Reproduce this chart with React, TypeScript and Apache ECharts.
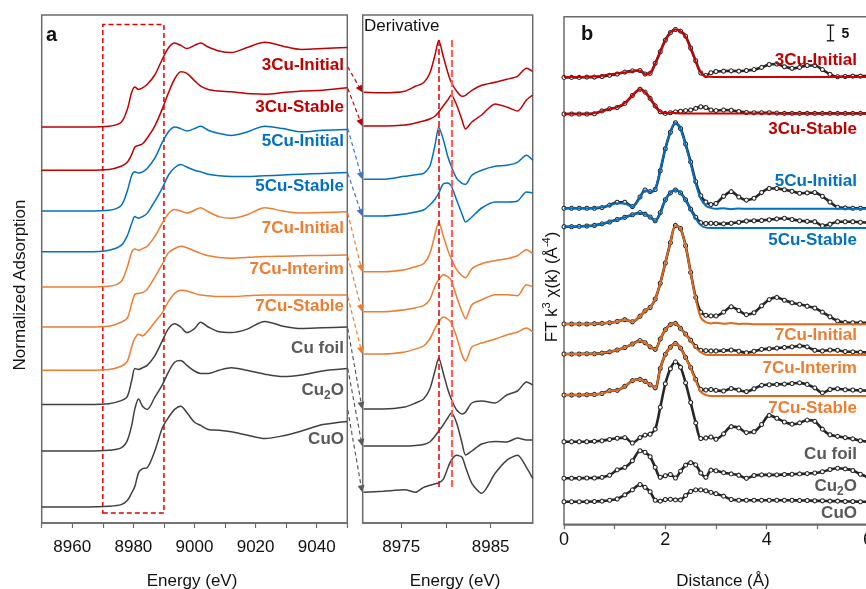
import React, { useEffect, useRef } from 'react';
import * as echarts from 'echarts';

const FONT = '"Liberation Sans", Arial, Helvetica, sans-serif';

const sampleNames = ['3Cu-Initial', '3Cu-Stable', '5Cu-Initial', '5Cu-Stable', '7Cu-Initial', '7Cu-Interim', '7Cu-Stable', 'Cu foil', 'Cu2O', 'CuO'];

// ---------- XANES (panel a) ----------
const xanesE = [8950, 8965, 8972, 8976, 8978, 8979.5, 8980.5, 8981.7, 8983, 8984.5, 8987, 8989.5, 8991.5, 8993.5, 8995.5, 8997.5, 9000, 9002, 9004.5, 9008, 9012, 9017, 9023, 9029, 9035, 9042, 9050];
const xanes3CuI = [0, 0, 0.01, 0.06, 0.22, 0.44, 0.5, 0.47, 0.49, 0.53, 0.65, 0.85, 0.99, 1.05, 1.02, 0.98, 1.02, 1.05, 1.0, 0.95, 0.93, 0.99, 1.06, 1.01, 0.97, 0.98, 0.995];
const xanes3CuS = [0, 0, 0.01, 0.05, 0.1, 0.2, 0.29, 0.31, 0.33, 0.4, 0.55, 0.77, 0.97, 1.14, 1.23, 1.21, 1.12, 1.05, 1.01, 0.99, 0.98, 0.96, 0.95, 0.97, 0.99, 1.0, 1.03];
const xanes5CuI = [0, 0, 0.01, 0.07, 0.25, 0.45, 0.49, 0.475, 0.49, 0.53, 0.66, 0.86, 0.99, 1.05, 1.03, 1.0, 1.03, 1.06, 1.01, 0.97, 0.945, 0.985, 1.06, 1.03, 0.99, 1.01, 1.02];
const xanes5CuS = [0, 0, 0.02, 0.08, 0.2, 0.36, 0.44, 0.42, 0.44, 0.48, 0.63, 0.8, 0.96, 1.05, 1.09, 1.06, 1.02, 1.0, 0.97, 0.95, 0.94, 0.94, 0.95, 0.96, 0.97, 0.98, 0.99];
const xanes7CuI = [0, 0, 0.01, 0.07, 0.25, 0.44, 0.475, 0.46, 0.48, 0.51, 0.63, 0.8, 0.92, 0.97, 0.95, 0.925, 0.96, 0.99, 0.94, 0.88, 0.86, 0.9, 0.99, 0.95, 0.925, 0.93, 0.94];
const xanes7CuInt = [0, 0, 0.01, 0.06, 0.11, 0.3, 0.41, 0.42, 0.43, 0.47, 0.62, 0.79, 0.93, 0.98, 1.01, 0.99, 0.95, 0.92, 0.89, 0.87, 0.86, 0.87, 0.88, 0.885, 0.89, 0.895, 0.9];
const xanes7CuS = [0, 0, 0.01, 0.05, 0.11, 0.3, 0.4, 0.45, 0.43, 0.48, 0.6, 0.72, 0.86, 0.96, 1.0, 0.99, 0.96, 0.94, 0.93, 0.92, 0.92, 0.93, 0.94, 0.94, 0.94, 0.94, 0.94];
const xanesCuFoil = [0, 0, 0.01, 0.05, 0.1, 0.31, 0.45, 0.44, 0.46, 0.49, 0.61, 0.8, 0.95, 1.01, 0.97, 0.9, 0.95, 1.03, 0.97, 0.91, 0.9, 0.94, 1.04, 0.98, 0.95, 0.96, 0.97];
const xanesCu2O = [0, 0, 0.01, 0.04, 0.13, 0.33, 0.53, 0.65, 0.56, 0.52, 0.67, 0.83, 0.99, 1.11, 1.13, 1.07, 1.0, 0.97, 0.97, 1.01, 1.04, 1.01, 0.96, 0.93, 0.95, 1.0, 1.03];
const xanesCuO = [0, 0, 0.01, 0.03, 0.08, 0.18, 0.26, 0.43, 0.48, 0.49, 0.7, 0.99, 1.12, 1.22, 1.26, 1.18, 1.06, 1.02, 0.97, 0.96, 0.94, 0.9, 0.855, 0.89, 0.95, 1.03, 1.07];
const xanesOffsets = [4.95, 4.41, 3.9, 3.39, 2.95, 2.45, 1.91, 1.48, 0.9, 0.2];
const arrowStartLevels = [5.7, 5.43, 4.93, 4.37, 3.87, 3.33, 2.83, 2.43, 1.93, 1.41];

// ---------- Derivative ----------
const derivE = [8970.8, 8973, 8975.4, 8976.6, 8977.5, 8978.2, 8978.8, 8979.2, 8979.7, 8980.2, 8980.6, 8981.2, 8981.8, 8982.2, 8982.9, 8984, 8985.5, 8986.8, 8988, 8989, 8989.7];
const deriv3CuI = [0, -0.05, 0.1, 0.6, 0.95, 1.9, 3.8, 5.2, 3.6, 2.0, 1.0, 0.1, -0.4, -0.3, 0.2, 0.7, 1.0, 1.3, 1.6, 2.4, 2.1];
const deriv3CuS = [0, 0, 0.1, 0.3, 0.5, 0.7, 1.0, 1.4, 2.0, 2.6, 3.1, 2.1, 0.6, -0.3, 0.4, 1.1, 2.2, 1.9, 1.5, 2.6, 3.1];
const deriv5CuI = [0, 0, 0.3, 0.45, 0.6, 1.3, 3.5, 5.2, 4.0, 2.3, 1.3, 0.1, -0.4, -0.5, 0.4, 0.9, 1.3, 1.4, 1.7, 2.4, 1.9];
const deriv5CuS = [0, 0, 0.2, 0.4, 0.6, 1.1, 1.7, 2.3, 3.2, 3.3, 3.0, 1.6, 0.2, -0.6, -0.1, 0.8, 1.4, 1.4, 1.5, 2.4, 2.3];
const deriv7CuI = [0, 0, 0.2, 0.5, 0.8, 1.8, 3.8, 5.0, 3.6, 2.2, 1.3, 0.2, -0.4, -0.6, 0.3, 0.8, 1.1, 1.3, 1.6, 2.2, 1.8];
const deriv7CuInt = [0, 0, 0.2, 0.4, 0.6, 1.2, 2.6, 3.2, 3.7, 3.5, 3.1, 1.5, 0.0, -0.7, 0.7, 1.2, 1.7, 1.7, 1.6, 2.7, 2.5];
const deriv7CuS = [0, 0, 0.2, 0.5, 0.8, 1.5, 2.6, 3.2, 3.7, 3.5, 3.1, 1.7, -0.1, -0.7, 0.7, 1.1, 1.5, 1.9, 2.2, 2.6, 2.2];
const derivCuFoil = [0, 0, 0.2, 0.6, 1.0, 2.0, 3.9, 5.1, 3.6, 2.0, 1.0, -0.1, -0.5, -0.3, 0.6, 0.8, 0.6, 1.4, 1.8, 2.7, 2.4];
const derivCu2O = [0, 0, 0, 0.05, 0.15, 0.4, 1.0, 1.5, 2.1, 2.8, 3.3, 2.3, 0.3, -0.9, -0.5, 0.2, 0.45, 0.4, 0.8, 0.6, 0.6];
const derivCuO = [0, 0.1, 0.25, 0, 0.5, 0.7, 0.85, 0.95, 1.3, 2.4, 3.2, 3.7, 3.5, 2.5, 0.9, -0.1, 1.9, 3.2, 3.7, 2.5, 1.4];
const derivOffsets = [43.07, 39.7, 34.37, 30.7, 25.13, 21.13, 16.9, 11.4, 7.7, 3.07];
const derivMarkers = [8979.2, 8980.6];

// ---------- FT-EXAFS (panel b) ----------
const ftR = [0, 0.15, 0.3, 0.45, 0.6, 0.75, 0.9, 1.05, 1.2, 1.35, 1.5, 1.6, 1.7, 1.8, 1.9, 2.0, 2.1, 2.2, 2.3, 2.4, 2.5, 2.6, 2.7, 2.8, 2.9, 3.0, 3.15, 3.3, 3.45, 3.6, 3.75, 3.9, 4.05, 4.2, 4.35, 4.5, 4.65, 4.8, 4.95, 5.1, 5.25, 5.4, 5.55, 5.7, 5.85, 6.0];
const ft3CuI = [0, 0, 0, 0.1, 0.1, 0.3, 0.7, 1.1, 1.7, 2.1, 2.2, 1.1, 1.3, 4.5, 8.2, 11.9, 14.3, 15.3, 14.8, 13.2, 9.4, 5.3, 1.4, 0.6, 1.5, 1.9, 2.0, 2.1, 2.0, 2.2, 2.5, 3.2, 4.1, 4.3, 3.4, 2.9, 3.2, 3.8, 3.8, 2.5, 1.0, 0.2, 0.3, 0.4, 0.4, 0.4];
const fit3CuI = [0.1, 0.1, 0.1, 0.2, 0.3, 0.5, 1.0, 1.3, 1.6, 2.0, 2.1, 1.0, 1.4, 4.4, 8.2, 11.9, 14.4, 15.3, 14.7, 13.0, 9.2, 5.0, 1.6, 0.3, 0.2, 0.1, 0.1, 0.1, 0.1, 0.1, 0.1, 0.1, 0.1, 0.1, 0.1, 0.1, 0.1, 0.1, 0.1, 0.1, 0.1, 0.1, 0.1, 0.1, 0.1, 0.1];
const ft3CuS = [0, 0, 0, 0, 0.1, 1.0, 1.7, 2.1, 3.4, 5.9, 7.9, 7.0, 5.0, 2.6, 0.7, 0.2, 0.4, 0.7, 0.9, 1.1, 1.3, 1.8, 2.3, 2.1, 1.3, 1.1, 1.3, 1.2, 0.8, 0.5, 0.4, 0.4, 0.4, 0.3, 0.2, 0.2, 0.2, 0.2, 0.2, 0.2, 0.2, 0.2, 0.2, 0.2, 0.2, 0.2];
const fit3CuS = [0.1, 0.1, 0.1, 0.1, 0.3, 0.9, 1.6, 2.2, 3.5, 5.9, 7.9, 7.0, 5.0, 2.5, 0.8, 0.3, 0.4, 0.3, 0.2, 0.2, 0.2, 0.2, 0.2, 0.2, 0.2, 0.2, 0.2, 0.2, 0.2, 0.2, 0.2, 0.2, 0.2, 0.2, 0.2, 0.2, 0.2, 0.2, 0.2, 0.2, 0.2, 0.2, 0.2, 0.2, 0.2, 0.2];
const ft5CuI = [0, 0, 0, 0, 0, 0.2, 1.0, 1.9, 1.9, 0.5, 3.6, 5.8, 5.3, 6.0, 12.0, 19.0, 24.3, 27.3, 25.5, 20.5, 14.8, 8.5, 4.0, 2.0, 1.2, 1.5, 3.8, 5.3, 3.6, 2.6, 3.2, 5.0, 6.3, 6.3, 5.9, 5.4, 4.8, 4.9, 5.0, 3.8, 2.0, 0.3, 0.1, 0, 0, 0];
const fit5CuI = [0, 0, 0, 0, 0.1, 0.3, 0.9, 1.6, 1.5, 0.4, 3.5, 5.7, 5.2, 6.2, 12.2, 19.0, 24.3, 27.3, 25.4, 20.3, 14.3, 7.8, 3.0, 0.8, 0.1, -0.2, 0.0, -0.3, -0.1, -0.2, -0.2, -0.2, -0.2, -0.2, -0.2, -0.2, -0.2, -0.2, -0.2, -0.2, -0.2, -0.2, -0.2, -0.2, -0.2, -0.2];
const ft5CuS = [0, 0, 0.1, 0.2, 0.4, 0.9, 1.5, 2.3, 3.0, 3.8, 4.5, 4.0, 3.1, 1.9, 4.5, 8.6, 10.8, 11.7, 10.8, 8.6, 5.6, 3.0, 1.3, 1.0, 1.1, 1.0, 0.9, 1.1, 1.4, 1.8, 1.9, 2.0, 2.2, 2.5, 2.7, 2.3, 1.9, 1.7, 1.6, 0.3, 0.8, 1.6, 1.6, 1.6, 1.4, 1.3];
const fit5CuS = [0, 0, 0.1, 0.2, 0.4, 0.9, 1.5, 2.3, 3.0, 3.8, 4.4, 4.0, 3.1, 1.8, 4.4, 8.6, 10.8, 11.7, 10.8, 8.5, 5.4, 2.6, 0.5, -0.3, -0.4, -0.4, -0.4, -0.4, -0.4, -0.4, -0.4, -0.4, -0.4, -0.4, -0.4, -0.4, -0.4, -0.4, -0.4, -0.4, -0.4, -0.4, -0.4, -0.4, -0.4, -0.4];
const ft7CuI = [0, 0, 0, 0, 0.1, 0.2, 0.4, 0.8, 1.4, 0.7, 2.5, 4.2, 5.3, 8.0, 13.0, 19.5, 26.0, 31.5, 30.5, 25.0, 16.5, 8.5, 3.8, 2.8, 2.6, 2.6, 3.8, 5.5, 4.3, 3.0, 3.6, 5.8, 7.8, 8.5, 7.6, 6.8, 6.3, 5.7, 5.1, 3.8, 2.3, 1.0, 0.5, 0.4, 0.4, 0.4];
const fit7CuI = [0, 0, 0, 0, 0.1, 0.2, 0.4, 0.8, 1.4, 0.7, 2.5, 4.2, 5.3, 8.0, 13.0, 19.5, 26.0, 31.5, 30.5, 25.0, 16.3, 8.0, 2.0, 0.6, 0.2, 0.4, 0.1, 0.3, 0.0, 0.1, -0.1, -0.1, -0.1, -0.1, -0.1, -0.1, -0.1, -0.1, -0.1, -0.1, -0.1, -0.1, -0.1, -0.1, -0.1, -0.1];
const ft7CuInt = [0, 0, 0, 0.1, 0.1, 0.3, 0.7, 1.3, 2.1, 3.2, 4.3, 3.6, 2.3, 1.5, 4.8, 7.8, 9.4, 9.8, 8.2, 6.4, 4.4, 2.4, 1.2, 1.1, 1.0, 1.0, 1.1, 1.3, 0.9, 0.4, 0.9, 1.5, 1.7, 1.9, 2.1, 2.3, 2.6, 2.3, 1.2, 1.0, 1.3, 1.2, 0.8, 0.7, 0.6, 0.5];
const fit7CuInt = [0, 0, 0, 0.1, 0.1, 0.3, 0.7, 1.3, 2.1, 3.2, 4.2, 3.6, 2.3, 1.5, 4.8, 7.8, 9.4, 9.8, 8.2, 6.3, 4.2, 2.0, 0.6, -0.2, -0.3, -0.3, -0.3, -0.3, -0.3, -0.3, -0.3, -0.3, -0.3, -0.3, -0.3, -0.3, -0.3, -0.3, -0.3, -0.3, -0.3, -0.3, -0.3, -0.3, -0.3, -0.3];
const ft7CuS = [0, 0, 0, 0.1, 0.2, 0.5, 1.4, 1.5, 2.8, 4.6, 5.0, 4.4, 3.3, 2.3, 8.5, 13.0, 15.3, 16.5, 15.0, 12.0, 8.8, 5.0, 1.8, 1.6, 1.8, 1.5, 1.3, 2.1, 1.6, 1.1, 2.0, 3.1, 3.3, 3.4, 3.5, 3.7, 3.9, 3.4, 2.3, 0.7, 1.8, 2.0, 1.7, 1.6, 1.5, 1.4];
const fit7CuS = [0, 0, 0, 0.1, 0.2, 0.5, 1.2, 1.6, 2.8, 4.6, 5.0, 4.4, 3.3, 2.3, 8.5, 13.0, 15.3, 16.5, 15.0, 12.0, 8.6, 4.6, 1.0, 0.0, -0.3, -0.3, -0.3, -0.3, -0.3, -0.3, -0.3, -0.3, -0.3, -0.3, -0.3, -0.3, -0.3, -0.3, -0.3, -0.3, -0.3, -0.3, -0.3, -0.3, -0.3, -0.3];
const ftCuFoil = [0, 0, 0, 0, 0.1, 0.3, 0.7, 1.1, 1.3, -0.4, 1.3, 2.1, 2.4, 4.0, 11.0, 18.5, 23.3, 25.5, 23.8, 18.8, 12.5, 6.0, 1.0, 1.2, 1.5, 0.8, 2.5, 4.8, 4.4, 2.9, 3.2, 5.5, 8.4, 7.5, 6.3, 5.6, 6.0, 6.9, 6.5, 4.0, 2.2, 1.7, 1.3, 0.9, 0.3, 0];
const ftCu2O = [0, 0, 0, 0.1, 0.1, 0.3, 1.0, 2.7, 3.5, 5.6, 8.8, 8.3, 6.9, 3.5, 0.3, 0.8, 1.2, 0.1, 2.3, 4.2, 5.0, 4.3, 1.7, 0.3, 2.6, 2.4, 1.8, 1.4, 1.0, 0.0, 0.9, 1.1, 1.1, 1.1, 1.2, 1.3, 1.4, 1.5, 1.7, 2.1, 2.8, 3.2, 3.0, 2.5, 1.3, 0.4];
const ftCuO = [0, 0, 0, 0, 0.1, 0.2, 0.5, 0.9, 2.2, 3.8, 5.5, 4.6, 3.2, 0.5, 0.2, 0.7, 0.8, 0.6, 0.6, 2.0, 3.3, 3.8, 3.8, 3.5, 3.0, 2.6, 1.8, 0.7, 0.5, 0.5, 0.5, 0.5, 0.5, 0.5, 0.5, 0.5, 0.4, 0.4, 0.3, 0.3, 0.2, 0.2, 0.1, 0.1, 0, 0];
const ftOffsets = [142.8, 131.1, 101.0, 95.1, 64.0, 54.4, 41.3, 26.4, 14.7, 7.2];
const scaleBarValue = 5;

const xanesAll = [xanes3CuI, xanes3CuS, xanes5CuI, xanes5CuS, xanes7CuI, xanes7CuInt, xanes7CuS, xanesCuFoil, xanesCu2O, xanesCuO];
const derivAll = [deriv3CuI, deriv3CuS, deriv5CuI, deriv5CuS, deriv7CuI, deriv7CuInt, deriv7CuS, derivCuFoil, derivCu2O, derivCuO];
const ftAll = [ft3CuI, ft3CuS, ft5CuI, ft5CuS, ft7CuI, ft7CuInt, ft7CuS, ftCuFoil, ftCu2O, ftCuO];
const fitAll = [fit3CuI, fit3CuS, fit5CuI, fit5CuS, fit7CuI, fit7CuInt, fit7CuS];

const RED = '#C00000';
const BLUE = '#0070C0';
const ORANGE = '#ED7D31';
const lineColors = [RED, RED, BLUE, BLUE, ORANGE, ORANGE, ORANGE, '#404040', '#404040', '#404040'];
const labelColors = [RED, RED, BLUE, BLUE, ORANGE, ORANGE, ORANGE, '#595959', '#595959', '#595959'];
const fitColors = ['#D00000', '#D00000', '#0070C0', '#0070C0', '#E0691B', '#E0691B', '#E0691B'];
const arrowColors = [RED, RED, '#4472C4', '#4472C4', ORANGE, ORANGE, ORANGE, '#595959', '#595959', '#595959'];
const labelYA = [64, 106, 140, 185, 227, 268, 305, 347, 389, 438];
const labelYB = [59, 128, 180, 239, 334, 367, 407, 453, 485, 512];

const AXIS = '#6b6b6b';

function labelEl(name: string, x: number, y: number, color: string) {
  if (name === 'Cu2O') {
    return {
      type: 'text', x, y, z: 50,
      style: {
        text: '{n|Cu}{s|2}{n|O}', align: 'right', verticalAlign: 'middle',
        rich: {
          n: { fontSize: 17, fontWeight: 'bold', fontFamily: FONT, fill: color, lineHeight: 24 },
          s: { fontSize: 12, fontWeight: 'bold', fontFamily: FONT, fill: color, lineHeight: 12, verticalAlign: 'bottom' },
        },
      },
    };
  }
  return {
    type: 'text', x, y, z: 50,
    style: { text: name, fill: color, font: `bold 17px ${FONT}`, align: 'right', verticalAlign: 'middle' },
  };
}

export default function App() {
  const ref = useRef<HTMLDivElement>(null);
  useEffect(() => {
    const chart = echarts.init(ref.current!, null, { renderer: 'svg' });
    const series: any[] = [];
    xanesAll.forEach((vals, i) => {
      series.push({
        type: 'line', xAxisIndex: 0, yAxisIndex: 0, showSymbol: false, smooth: 0.3,
        lineStyle: { color: lineColors[i], width: 1.5 }, silent: true,
        data: xanesE.map((e, k) => [e, xanesOffsets[i] + vals[k]]),
        ...(i === 0 ? {
          markArea: {
            silent: true,
            itemStyle: { color: 'rgba(0,0,0,0)', borderColor: '#E00000', borderWidth: 1.5, borderType: [5, 3] },
            data: [[{ coord: [8970, 0.125] }, { coord: [8990, 6.23] }]],
          },
        } : {}),
      });
    });
    derivAll.forEach((vals, i) => {
      series.push({
        type: 'line', xAxisIndex: 1, yAxisIndex: 1, showSymbol: false, smooth: 0.25,
        lineStyle: { color: lineColors[i], width: 1.5 }, silent: true,
        data: derivE.map((e, k) => [e, derivOffsets[i] + vals[k]]),
        ...(i === 0 ? {
          markLine: {
            silent: true, symbol: ['none', 'none'], label: { show: false },
            data: [
              [{ coord: [derivMarkers[0], 48.3], lineStyle: { color: '#E00000', width: 1.5, type: [6, 3] } }, { coord: [derivMarkers[0], 3.3] }],
              [{ coord: [derivMarkers[1], 48.3], lineStyle: { color: '#FF5C5C', width: 2.2, type: [7, 3] } }, { coord: [derivMarkers[1], 3.3] }],
            ],
          },
        } : {}),
      });
    });
    ftAll.forEach((vals, i) => {
      series.push({
        type: 'line', xAxisIndex: 2, yAxisIndex: 2, smooth: 0.3, symbol: 'circle', symbolSize: 4,
        showAllSymbol: true, silent: true, z: 2,
        itemStyle: { color: '#ffffff', borderColor: '#262626', borderWidth: 1.1 },
        lineStyle: { color: '#262626', width: 2.6 },
        data: ftR.map((r, k) => [r, ftOffsets[i] + vals[k]]),
      });
    });
    fitAll.forEach((vals, i) => {
      series.push({
        type: 'line', xAxisIndex: 2, yAxisIndex: 2, smooth: 0.3, showSymbol: false, silent: true, z: 5,
        lineStyle: { color: fitColors[i], width: 2 },
        data: ftR.map((r, k) => [r, ftOffsets[i] + vals[k]]),
      });
    });

    const axisCommon = {
      axisLine: { show: true, lineStyle: { color: AXIS, width: 1.5 } },
      axisTick: { show: true, inside: false, length: 5, lineStyle: { color: AXIS, width: 1.2 } },
      splitLine: { show: false },
    };
    const yHidden = { type: 'value', show: true, axisLine: { show: false }, axisTick: { show: false }, axisLabel: { show: false }, splitLine: { show: false } };
    const gridCommon = { show: true, borderColor: AXIS, borderWidth: 1.5, containLabel: false, outerBoundsMode: 'none' };

    chart.setOption({
      animation: false,
      grid: [
        { ...gridCommon, left: 41.7, top: 15, width: 305.6, height: 508 },
        { ...gridCommon, left: 362.7, top: 15, width: 170, height: 508 },
        { ...gridCommon, left: 564, top: 16.7, width: 304, height: 507.6 },
      ],
      xAxis: [
        {
          type: 'value', gridIndex: 0, min: 8950, max: 9050, interval: 10, ...axisCommon,
          axisLabel: { margin: 15, fontSize: 17, fontFamily: FONT, color: '#111', formatter: (v: number) => (v % 20 === 0 ? String(v) : '') },
        },
        {
          type: 'value', gridIndex: 1, min: 8970.7, max: 8989.7, ...axisCommon,
          axisTick: { ...axisCommon.axisTick, customValues: [8975, 8980, 8985] },
          axisLabel: { margin: 15, fontSize: 17, fontFamily: FONT, color: '#111', customValues: [8975, 8985], formatter: (v: number) => String(Math.round(v)) },
        },
        {
          type: 'value', gridIndex: 2, min: 0, max: 6, interval: 1, ...axisCommon,
          axisLabel: { margin: 6, fontSize: 18, fontFamily: FONT, color: '#111', formatter: (v: number) => (v % 2 === 0 ? String(v) : '') },
        },
      ],
      yAxis: [
        { ...yHidden, gridIndex: 0, min: 0, max: 6.35 },
        { ...yHidden, gridIndex: 1, min: 0, max: 50.8 },
        { ...yHidden, gridIndex: 2, min: 0, max: 162.2 },
      ],
      series,
    });

    const g: any[] = [];
    sampleNames.forEach((_, i) => {
      const p0 = chart.convertToPixel({ gridIndex: 0 }, [9050, arrowStartLevels[i]]) as number[];
      const p1 = chart.convertToPixel({ gridIndex: 1 }, [8970.7, derivOffsets[i]]) as number[];
      const x0 = p0[0] + 0.5, y0 = p0[1];
      const x1 = p1[0] - 0.5, y1 = p1[1];
      const dx = x1 - x0, dy = y1 - y0;
      const len = Math.sqrt(dx * dx + dy * dy);
      const ux = dx / len, uy = dy / len;
      const hl = 7, hw = 3.5;
      const bx = x1 - ux * hl, by = y1 - uy * hl;
      g.push({ type: 'line', z: 40, shape: { x1: x0, y1: y0, x2: bx, y2: by }, style: { stroke: arrowColors[i], lineWidth: 1.2, lineDash: [4, 3] } });
      g.push({
        type: 'polygon', z: 40,
        shape: { points: [[x1, y1], [bx - uy * hw, by + ux * hw], [bx + uy * hw, by - ux * hw]] },
        style: { fill: arrowColors[i] },
      });
    });
    sampleNames.forEach((name, i) => {
      g.push(labelEl(name, 344, labelYA[i], labelColors[i]));
      g.push(labelEl(name, 857, labelYB[i], labelColors[i]));
    });
    const sb0 = chart.convertToPixel({ gridIndex: 2 }, [5.26, 154.5]) as number[];
    const sb1 = chart.convertToPixel({ gridIndex: 2 }, [5.26, 154.5 + scaleBarValue]) as number[];
    g.push({ type: 'line', z: 40, shape: { x1: sb0[0], y1: sb0[1], x2: sb1[0], y2: sb1[1] }, style: { stroke: '#111', lineWidth: 1.3 } });
    g.push({ type: 'line', z: 40, shape: { x1: sb0[0] - 3.7, y1: sb0[1], x2: sb0[0] + 3.7, y2: sb0[1] }, style: { stroke: '#111', lineWidth: 1.3 } });
    g.push({ type: 'line', z: 40, shape: { x1: sb1[0] - 3.7, y1: sb1[1], x2: sb1[0] + 3.7, y2: sb1[1] }, style: { stroke: '#111', lineWidth: 1.3 } });
    g.push({ type: 'text', z: 40, x: sb0[0] + 11, y: (sb0[1] + sb1[1]) / 2, style: { text: String(scaleBarValue), font: `bold 14px ${FONT}`, fill: '#111', align: 'left', verticalAlign: 'middle' } });
    g.push({ type: 'text', x: 46, y: 34, style: { text: 'a', font: `bold 20px ${FONT}`, fill: '#111', align: 'left', verticalAlign: 'middle' } });
    g.push({ type: 'text', x: 581, y: 33, style: { text: 'b', font: `bold 20px ${FONT}`, fill: '#111', align: 'left', verticalAlign: 'middle' } });
    g.push({ type: 'text', x: 364, y: 25, style: { text: 'Derivative', font: `17px ${FONT}`, fill: '#111', align: 'left', verticalAlign: 'middle' } });
    g.push({ type: 'text', x: 192, y: 580, style: { text: 'Energy (eV)', font: `17px ${FONT}`, fill: '#111', align: 'center', verticalAlign: 'middle' } });
    g.push({ type: 'text', x: 455, y: 580, style: { text: 'Energy (eV)', font: `17px ${FONT}`, fill: '#111', align: 'center', verticalAlign: 'middle' } });
    g.push({ type: 'text', x: 723, y: 580, style: { text: 'Distance (Å)', font: `17px ${FONT}`, fill: '#111', align: 'center', verticalAlign: 'middle' } });
    g.push({ type: 'text', x: 19, y: 285, rotation: Math.PI / 2, style: { text: 'Normalized Adsorption', font: `17px ${FONT}`, fill: '#111', align: 'center', verticalAlign: 'middle' } });
    g.push({
      type: 'text', x: 551, y: 287, rotation: Math.PI / 2,
      style: {
        text: '{n|FT k}{p|3}{n| χ(k) (Å}{p|-4}{n|)}', align: 'center', verticalAlign: 'middle',
        rich: {
          n: { fontSize: 17, fontFamily: FONT, fill: '#111', lineHeight: 22 },
          p: { fontSize: 11, fontFamily: FONT, fill: '#111', lineHeight: 11, verticalAlign: 'top' },
        },
      },
    });
    chart.setOption({ graphic: { elements: g } });

    return () => chart.dispose();
  }, []);
  return <div ref={ref} style={{ position: 'fixed', left: 0, top: 0, width: 866, height: 589 }} />;
}
